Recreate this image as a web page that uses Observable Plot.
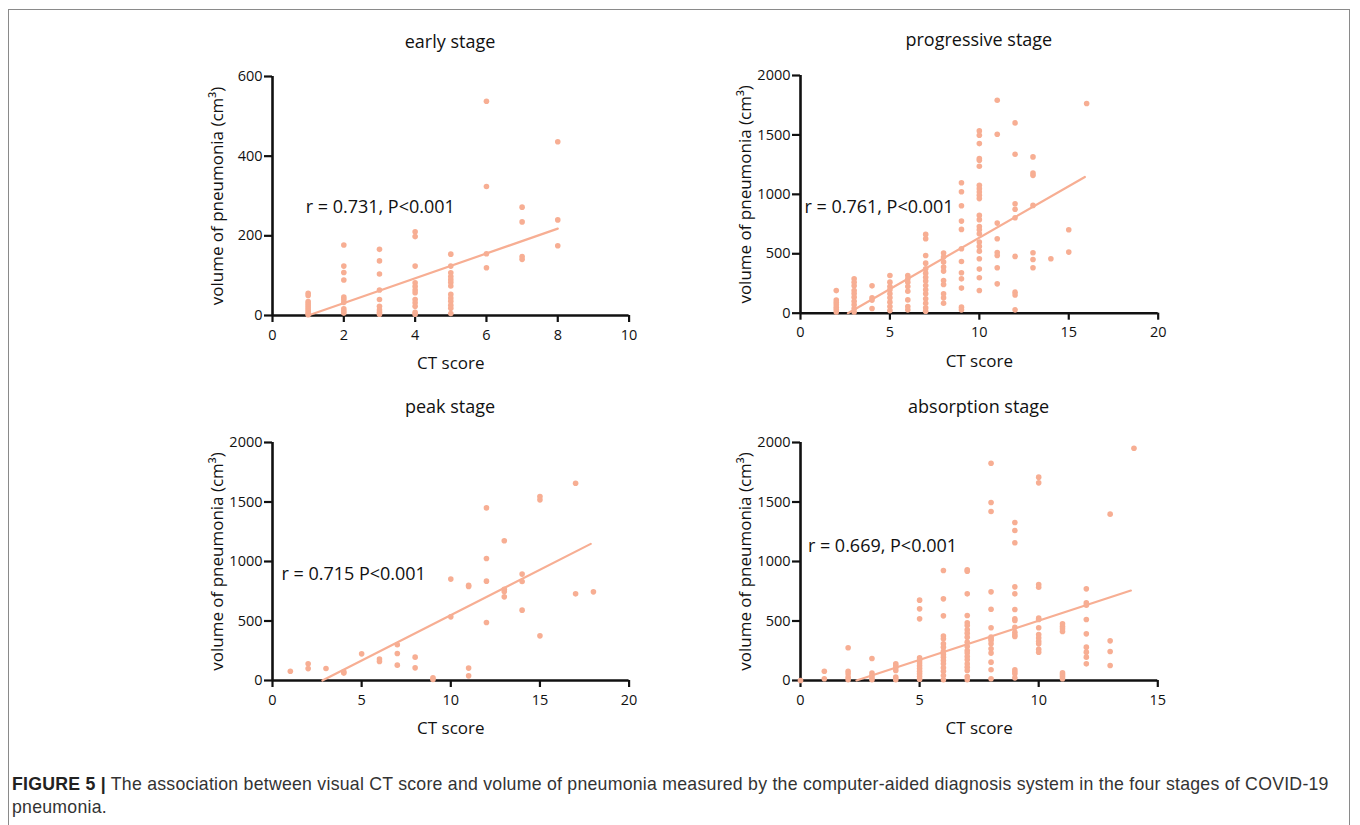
<!DOCTYPE html>
<html>
<head>
<meta charset="utf-8">
<script src="https://cdn.jsdelivr.net/npm/d3@7"></script>
<script src="https://cdn.jsdelivr.net/npm/@observablehq/plot@0.6"></script>
<style>
  html, body { margin: 0; padding: 0; background: #fff; }
  #page { position: relative; width: 1360px; height: 825px; overflow: hidden; background: #fff; }
  #border { position: absolute; left: 8px; top: 9px; width: 1342px; height: 830px; border: 1px solid #8a8a8a; box-sizing: border-box; }
  .panel { position: absolute; }
  .title { position: absolute; font-family: "Open Sans", sans-serif; font-size: 18px; line-height: 20px; color: #111; transform: translateX(-50%); white-space: nowrap; }
  #caption { position: absolute; left: 12px; top: 773px; width: 1338px; font-family: "Liberation Sans", Arial, sans-serif; font-size: 17.7px; letter-spacing: 0.25px; line-height: 23px; color: #333; white-space: nowrap; }
  #caption b { font-weight: bold; color: #222; }
</style>
</head>
<body>
<div id="page">
  <div id="border"></div>
  <div id="caption"><b>FIGURE 5 |</b> The association between visual CT score and volume of pneumonia measured by the computer-aided diagnosis system in the four stages of COVID-19<br>pneumonia.</div>
</div>
<script>
// ---------- data ----------
const stageTitles = ["early stage", "progressive stage", "peak stage", "absorption stage"];
const stageNotes = ["r = 0.731, P<0.001", "r = 0.761, P<0.001", "r = 0.715 P<0.001", "r = 0.669, P<0.001"];

const earlyScores = [1, 2, 3, 4, 5, 6, 7, 8];
const earlyVolumes = [
  [56, 50, 35, 30, 25, 20, 15, 10, 5, 2],
  [177, 124, 108, 89, 46, 40, 33, 17, 11, 6],
  [166, 137, 104, 64, 40, 23, 14, 8, 3],
  [210, 198, 124, 82, 73, 64, 57, 40, 32, 23, 8, 3],
  [154, 124, 107, 98, 90, 83, 74, 53, 44, 36, 26, 18, 5],
  [538, 324, 155, 120],
  [272, 235, 148, 141],
  [436, 240, 175]
];
const earlyFitX = [1, 8];
const earlyFitY = [0, 218];
const earlyNoteXY = [0.93, 272];

const progScores = [2, 3, 4, 5, 6, 7, 8, 9, 10, 11, 12, 13, 14, 15, 16];
const progVolumes = [
  [190, 110, 90, 70, 50, 30, 10],
  [290, 260, 230, 190, 165, 135, 100, 70, 40, 10],
  [230, 130, 110, 40],
  [317, 261, 225, 197, 163, 129, 93, 56, 22],
  [317, 289, 261, 225, 185, 112, 56, 28],
  [663, 626, 486, 421, 374, 337, 303, 270, 233, 197, 163, 121, 84, 45, 17],
  [506, 472, 430, 388, 354, 275, 242, 163, 129, 84],
  [1098, 1022, 904, 775, 705, 542, 435, 340, 289, 211, 51, 28],
  [1534, 1497, 1427, 1301, 1287, 1236, 1076, 1048, 1020, 992, 964, 823, 787, 730, 702, 669, 598, 562, 522, 458, 371, 298, 191],
  [1792, 1506, 758, 626, 511, 486, 382, 247],
  [1601, 1337, 921, 874, 803, 478, 177, 154, 28],
  [1315, 1180, 1160, 907, 508, 452, 382],
  [458],
  [702, 514],
  [1764]
];
const progFitX = [2.65, 15.9];
const progFitY = [0, 1146];
const progNoteXY = [0.22, 893];

const peakScores = [1, 2, 3, 4, 5, 6, 7, 8, 9, 10, 11, 12, 13, 14, 15, 17, 18];
const peakVolumes = [
  [78],
  [140, 100],
  [101],
  [72, 62],
  [224],
  [180, 160],
  [300, 227, 129],
  [196, 106],
  [22, 8],
  [852, 535],
  [800, 790, 104, 39],
  [1451, 1025, 835, 487],
  [1174, 767, 748, 703],
  [894, 832, 591],
  [1546, 1518, 375],
  [1658, 728],
  [745]
];
const peakFitX = [2.8, 17.85];
const peakFitY = [0, 1148];
const peakNoteXY = [0.5, 891];

const absScores = [0, 1, 2, 3, 4, 5, 6, 7, 8, 9, 10, 11, 12, 13, 14];
const absVolumes = [
  [0],
  [78, 14],
  [275, 78, 56, 28, 6],
  [185, 62, 42, 22, 6],
  [140, 123, 106, 84, 28, 6],
  [675, 602, 518, 190, 168, 146, 123, 101, 78, 56, 34, 11],
  [924, 686, 543, 373, 350, 308, 280, 246, 218, 196, 168, 140, 106, 78, 42, 6],
  [930, 919, 728, 546, 485, 462, 426, 398, 364, 322, 286, 252, 230, 202, 174, 140, 112, 84, 34, 6],
  [1826, 1496, 1420, 745, 599, 443, 364, 350, 336, 308, 266, 230, 154, 90, 14],
  [1328, 1260, 1157, 787, 728, 597, 518, 504, 448, 406, 384, 370, 90, 73, 56, 22],
  [1709, 1661, 807, 784, 524, 513, 443, 386, 358, 330, 308, 263, 238],
  [476, 454, 434, 412, 64, 50, 34, 14],
  [770, 653, 633, 513, 392, 280, 238, 196, 140],
  [1398, 333, 244, 126],
  [1952]
];
const absFitX = [2.35, 13.87];
const absFitY = [0, 756];
const absNoteXY = [0.31, 1126];

const earlyXTicks = [0, 2, 4, 6, 8, 10];
const earlyYTicks = [0, 200, 400, 600];
const progXTicks = [0, 5, 10, 15, 20];
const progYTicks = [0, 500, 1000, 1500, 2000];
const peakXTicks = [0, 5, 10, 15, 20];
const peakYTicks = [0, 500, 1000, 1500, 2000];
const absXTicks = [0, 5, 10, 15];
const absYTicks = [0, 500, 1000, 1500, 2000];

const xLabel = "CT score";
const yLabel = "volume of pneumonia (cm³)";

// ---------- layout ----------
const DOT = "#f7ae93";
const INK = "#111";
const panels = [
  {title: stageTitles[0], note: stageNotes[0], scores: earlyScores, volumes: earlyVolumes, fitX: earlyFitX, fitY: earlyFitY, noteXY: earlyNoteXY,
   xTicks: earlyXTicks, yTicks: earlyYTicks, frame: {left: 271.7, right: 628.3, top: 76, bottom: 315}, titleY: 31},
  {title: stageTitles[1], note: stageNotes[1], scores: progScores, volumes: progVolumes, fitX: progFitX, fitY: progFitY, noteXY: progNoteXY,
   xTicks: progXTicks, yTicks: progYTicks, frame: {left: 800, right: 1157.7, top: 75, bottom: 312.7}, titleY: 29},
  {title: stageTitles[2], note: stageNotes[2], scores: peakScores, volumes: peakVolumes, fitX: peakFitX, fitY: peakFitY, noteXY: peakNoteXY,
   xTicks: peakXTicks, yTicks: peakYTicks, frame: {left: 271.7, right: 628.3, top: 442, bottom: 680}, titleY: 396},
  {title: stageTitles[3], note: stageNotes[3], scores: absScores, volumes: absVolumes, fitX: absFitX, fitY: absFitY, noteXY: absNoteXY,
   xTicks: absXTicks, yTicks: absYTicks, frame: {left: 800, right: 1157.3, top: 442, bottom: 680}, titleY: 396}
];

const page = document.getElementById("page");
const ML = 80, MR = 20, MT = 20, MB = 70;

for (const p of panels) {
  const w = p.frame.right - p.frame.left;
  const h = p.frame.bottom - p.frame.top;
  const xMax = p.xTicks[p.xTicks.length - 1];
  const yMax = p.yTicks[p.yTicks.length - 1];
  const points = p.scores.flatMap((s, i) => p.volumes[i].map(v => ({x: s, y: v})));
  const fit = p.fitX.map((x, i) => ({x, y: p.fitY[i]}));
  const chart = Plot.plot({
    width: ML + w + MR,
    height: MT + h + MB,
    marginLeft: ML, marginRight: MR, marginTop: MT, marginBottom: MB,
    x: {domain: [0, xMax]},
    y: {domain: [0, yMax]},
    style: {fontFamily: "'Open Sans', sans-serif", fontSize: "14px", color: INK, background: "transparent", overflow: "visible"},
    marks: [
      Plot.axisX({ticks: p.xTicks, tickFormat: d => String(d), tickSize: 7, tickPadding: 7, fontSize: 14.5, label: null, stroke: INK, strokeWidth: 2.2, fill: INK}),
      Plot.axisY({ticks: p.yTicks, tickFormat: d => String(d), tickSize: 8, tickPadding: 2, fontSize: 14.5, label: null, stroke: INK, strokeWidth: 2.2, fill: INK}),
      Plot.ruleY([0], {stroke: INK, strokeWidth: 2.6}),
      Plot.ruleX([0], {stroke: INK, strokeWidth: 2.6}),
      Plot.line(fit, {x: "x", y: "y", stroke: DOT, strokeWidth: 2.2}),
      Plot.dot(points, {x: "x", y: "y", r: 2.8, fill: DOT, stroke: "none"}),
      Plot.text([{x: p.noteXY[0], y: p.noteXY[1], t: p.note}], {x: "x", y: "y", text: "t", textAnchor: "start", fontSize: 18, fill: INK}),
      Plot.text([xLabel], {frameAnchor: "bottom", dy: 54, fontSize: 17, fill: INK}),
      Plot.text([yLabel], {frameAnchor: "left", textAnchor: "middle", rotate: -90, dx: -55, fontSize: 17, fill: INK})
    ]
  });
  const holder = document.createElement("div");
  holder.className = "panel";
  holder.style.left = (p.frame.left - ML) + "px";
  holder.style.top = (p.frame.top - MT) + "px";
  holder.appendChild(chart);
  page.appendChild(holder);

  const t = document.createElement("div");
  t.className = "title";
  t.textContent = p.title;
  t.style.left = ((p.frame.left + p.frame.right) / 2) + "px";
  t.style.top = p.titleY + "px";
  page.appendChild(t);
}
</script>
</body>
</html>
